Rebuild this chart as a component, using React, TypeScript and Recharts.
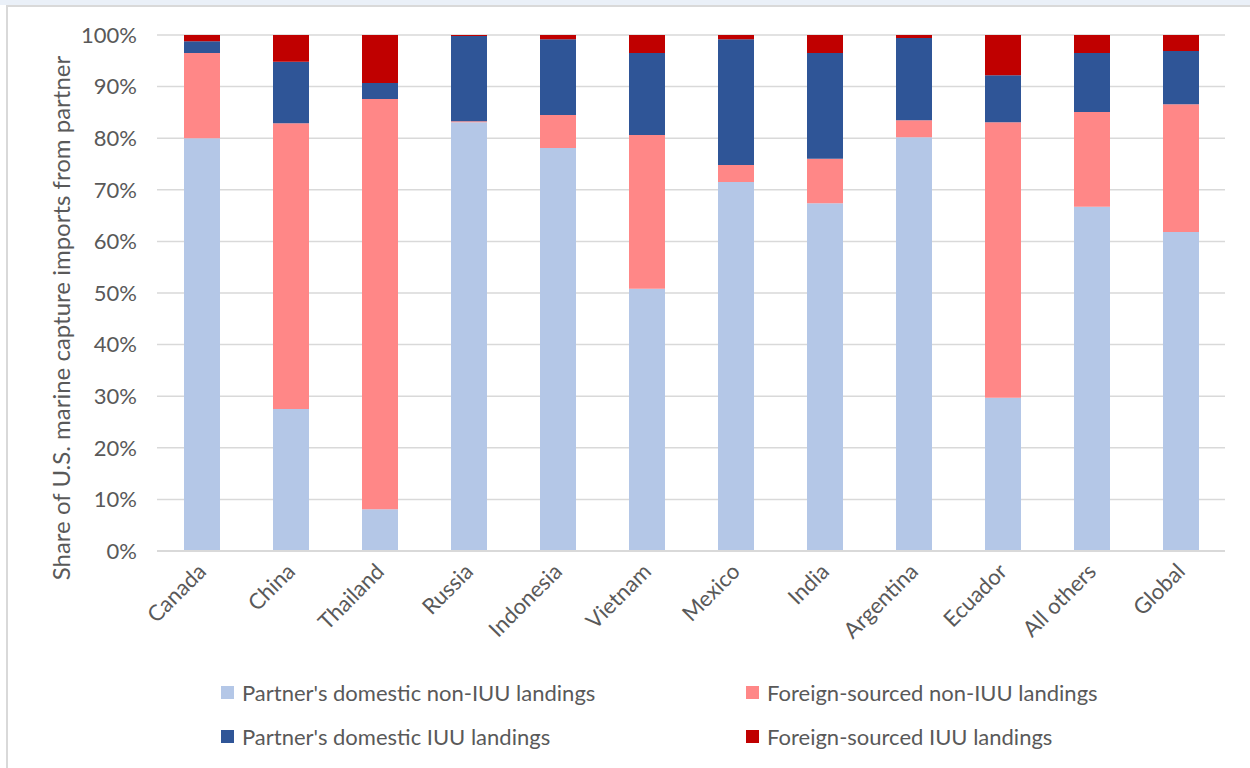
import React from 'react';
import { BarChart, Bar, XAxis, YAxis, CartesianGrid } from 'recharts';

const categories = ['Canada', 'China', 'Thailand', 'Russia', 'Indonesia', 'Vietnam', 'Mexico', 'India', 'Argentina', 'Ecuador', 'All others', 'Global'];

// shares in percent, stacked bottom to top
const domesticNonIUU = [80.0, 27.5, 8.1, 83.1, 78.1, 50.8, 71.5, 67.4, 80.2, 29.7, 66.7, 61.8];
const foreignNonIUU = [16.5, 55.4, 79.5, 0.2, 6.4, 29.8, 3.3, 8.6, 3.3, 53.4, 18.4, 24.8];
const domesticIUU = [2.3, 11.9, 3.1, 16.5, 14.7, 15.9, 24.4, 20.5, 15.9, 9.1, 11.4, 10.3];
const foreignIUU = [1.2, 5.2, 9.3, 0.2, 0.8, 3.5, 0.8, 3.5, 0.6, 7.8, 3.5, 3.1];

const yTicks = [0, 10, 20, 30, 40, 50, 60, 70, 80, 90, 100];

const series = [
  { key: 'domNon', name: "Partner's domestic non-IUU landings", color: '#b4c7e7', values: domesticNonIUU },
  { key: 'forNon', name: 'Foreign-sourced non-IUU landings', color: '#ff8787', values: foreignNonIUU },
  { key: 'domIUU', name: "Partner's domestic IUU landings", color: '#2f5597', values: domesticIUU },
  { key: 'forIUU', name: 'Foreign-sourced IUU landings', color: '#c00000', values: foreignIUU },
];

const data = categories.map((c, i) => {
  const row: any = { name: c };
  series.forEach((s) => { row[s.key] = s.values[i]; });
  return row;
});

const FONT = 'Lato, "Open Sans", sans-serif';
const TEXT = '#595959';

function XTick(props: any) {
  const { x, y, payload } = props;
  const tx = x + 2;
  const ty = y + 10;
  return (
    <text x={tx} y={ty} transform={`rotate(-45 ${tx} ${ty})`} textAnchor="end" dominantBaseline="middle"
      fill={TEXT} fontSize={22} fontFamily={FONT}>
      {payload.value}
    </text>
  );
}

function YLabel(props: any) {
  const vb = props.viewBox;
  const cx = vb.x + 64;
  const cy = 318;
  return (
    <text x={cx} y={cy} transform={`rotate(-90 ${cx} ${cy})`} textAnchor="middle" dominantBaseline="middle"
      fill={TEXT} fontSize={24} fontFamily={FONT}>
      Share of U.S. marine capture imports from partner
    </text>
  );
}

export default function App() {
  // legend order: two columns, two rows
  const legendPos = [
    { left: 221, top: 678 },
    { left: 746, top: 678 },
    { left: 221, top: 722 },
    { left: 746, top: 722 },
  ];
  return (
    <div style={{ position: 'absolute', left: 0, top: 0, width: 1250, height: 768, background: '#fff', overflow: 'hidden', fontFamily: FONT }}>
      <div style={{ position: 'absolute', left: 0, top: 0, width: 1250, height: 5, background: '#eaf0f8' }} />
      <div style={{ position: 'absolute', left: 6, top: 5, width: 1260, height: 780, border: '2px solid #d9d9d9', boxSizing: 'border-box' }} />
      <div style={{ position: 'absolute', left: 0, top: 0 }}>
        <BarChart width={1250} height={768} data={data} margin={{ top: 35, right: 25, bottom: 107, left: 0 }} barSize={36}>
          <CartesianGrid vertical={false} stroke="#d9d9d9" strokeWidth={1.5} />
          <XAxis dataKey="name" height={110} tickLine={false} axisLine={{ stroke: '#d9d9d9', strokeWidth: 2 }}
            tick={<XTick />} interval={0} />
          <YAxis width={157} domain={[0, 100]} ticks={yTicks} allowDataOverflow tickFormatter={(v) => `${v}%`}
            axisLine={false} tickLine={false} tickMargin={14}
            tick={{ fill: TEXT, fontSize: 22, fontFamily: FONT }} label={<YLabel />} />
          {series.map((s) => (
            <Bar key={s.key} dataKey={s.key} name={s.name} stackId="a" fill={s.color} isAnimationActive={false} />
          ))}
        </BarChart>
      </div>
      {series.map((s, i) => (
        <div key={s.key} style={{ position: 'absolute', left: legendPos[i].left, top: legendPos[i].top, height: 28, display: 'flex', alignItems: 'center', color: TEXT, fontSize: 22, whiteSpace: 'nowrap' }}>
          <span style={{ display: 'inline-block', width: 13, height: 13, background: s.color, marginRight: 8 }} />
          {s.name}
        </div>
      ))}
    </div>
  );
}
